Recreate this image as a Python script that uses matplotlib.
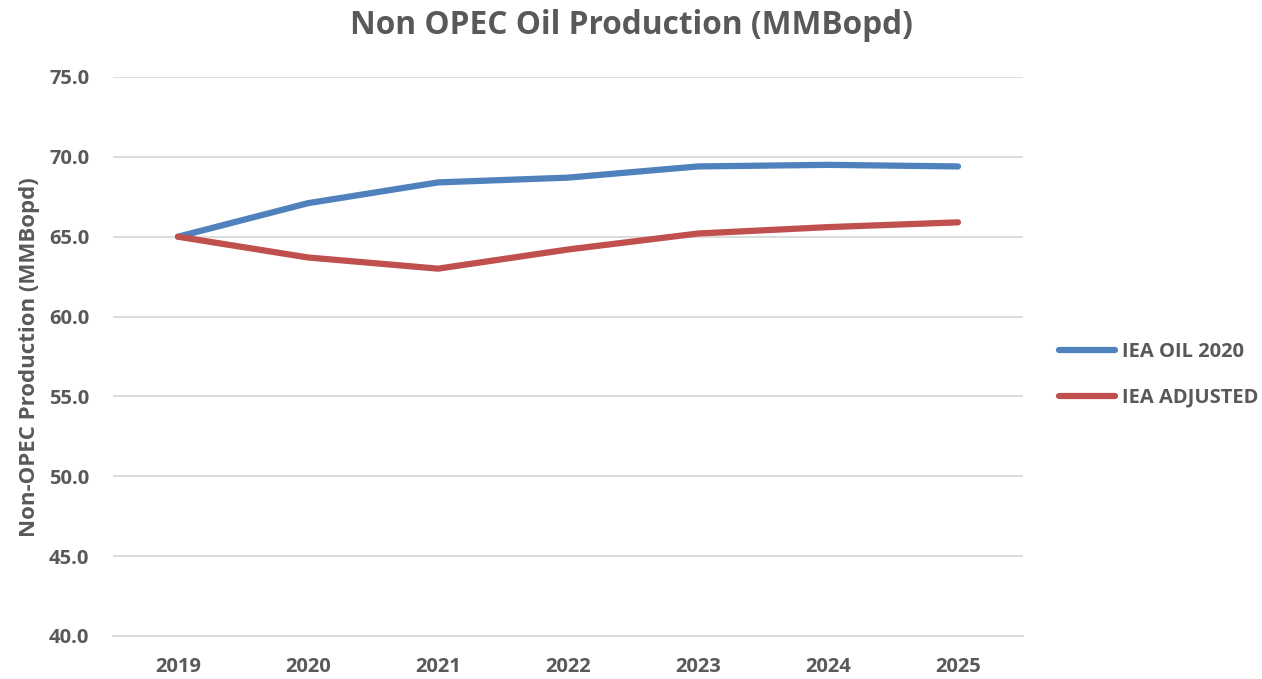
import matplotlib.pyplot as plt
from matplotlib.ticker import FormatStrFormatter

plt.rcParams['font.family'] = ['Open Sans', 'DejaVu Sans']
plt.rcParams['font.weight'] = 'bold'

years = ['2019', '2020', '2021', '2022', '2023', '2024', '2025']
iea_oil_2020 = [65.0, 67.1, 68.4, 68.7, 69.4, 69.5, 69.4]
iea_adjusted = [65.0, 63.7, 63.0, 64.2, 65.2, 65.6, 65.9]

grey = '#595959'

fig = plt.figure(figsize=(12.62, 6.79), dpi=100)
ax = fig.add_axes([113/1262, 1 - 636/679, (1023 - 113)/1262, (636 - 77)/679])

x = range(len(years))
ax.plot(x, iea_oil_2020, color='#4f81bd', lw=4.5, solid_capstyle='round', label='IEA OIL 2020')
ax.plot(x, iea_adjusted, color='#c0504d', lw=4.5, solid_capstyle='round', label='IEA ADJUSTED')

ax.set_xlim(-0.5, len(years) - 0.5)
ax.set_ylim(40, 75)
ax.set_yticks([40, 45, 50, 55, 60, 65, 70, 75])
ax.yaxis.set_major_formatter(FormatStrFormatter('%.1f'))
ax.set_xticks(list(x))
ax.set_xticklabels(years)
ax.grid(axis='y', color='#d9d9d9', lw=1.3)
ax.set_axisbelow(True)
for s in ['top', 'right', 'left']:
    ax.spines[s].set_visible(False)
ax.spines['bottom'].set_color('#d9d9d9')
ax.spines['bottom'].set_linewidth(1.3)
ax.tick_params(length=0, colors=grey, labelsize=14.5)
ax.tick_params(axis='y', pad=17)
ax.tick_params(axis='x', pad=15)

fig.text(30/1262, 1 - 357/679, 'Non-OPEC Production (MMBopd)', rotation=90, ha='center', va='center',
         color=grey, fontsize=16, fontweight='bold')
fig.text(631/1262, 1 - 26/679, 'Non OPEC Oil Production (MMBopd)', ha='center', va='center',
         color=grey, fontsize=22.8, fontweight='bold')

leg = fig.legend(loc='center left', bbox_to_anchor=(1059/1262, 1 - 375/679), frameon=False,
                 fontsize=14.5, labelcolor=grey, handlelength=2.8, handletextpad=0.35,
                 labelspacing=1.25, borderaxespad=0, borderpad=0)

fig.savefig('out.png', dpi=100)
